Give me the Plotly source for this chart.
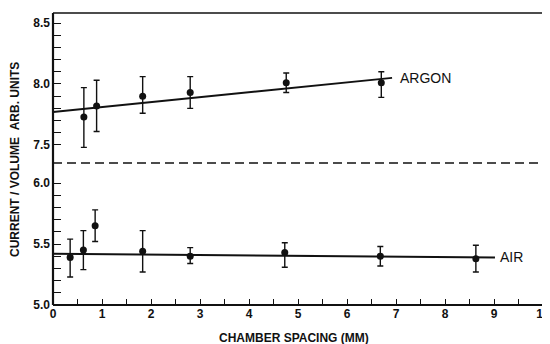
import plotly.graph_objects as go

# ---- data ----
argon_x = [0.63, 0.89, 1.83, 2.80, 4.76, 6.70]
argon_y = [7.73, 7.82, 7.90, 7.93, 8.01, 8.01]
argon_err_hi = [0.24, 0.21, 0.16, 0.13, 0.08, 0.09]
argon_err_lo = [0.25, 0.21, 0.14, 0.13, 0.08, 0.12]
argon_fit_x = [0.0, 6.92]
argon_fit_y = [7.77, 8.05]

air_x = [0.35, 0.62, 0.86, 1.83, 2.80, 4.73, 6.68, 8.63]
air_y = [5.39, 5.45, 5.65, 5.44, 5.40, 5.43, 5.40, 5.38]
air_err_hi = [0.15, 0.16, 0.13, 0.17, 0.07, 0.08, 0.08, 0.11]
air_err_lo = [0.16, 0.16, 0.13, 0.17, 0.06, 0.12, 0.08, 0.11]
air_fit_x = [0.0, 9.02]
air_fit_y = [5.42, 5.39]

# tick positions and labels
x_tickvals = [0, 0.5, 1, 1.5, 2, 2.5, 3, 3.5, 4, 4.5, 5, 5.5, 6, 6.5, 7, 7.5, 8, 8.5, 9, 9.5, 10]
x_ticktext = ["0", "", "1", "", "2", "", "3", "", "4", "", "5", "", "6", "", "7", "", "8", "", "9", "", "10"]
ylo_tickvals = [5.0, 5.1, 5.2, 5.3, 5.4, 5.5, 5.6, 5.7, 5.8, 5.9, 6.0]
ylo_ticktext = ["5.0", "", "", "", "", "5.5", "", "", "", "", "6.0"]
yhi_tickvals = [7.5, 7.6, 7.7, 7.8, 7.9, 8.0, 8.1, 8.2, 8.3, 8.4, 8.5]
yhi_ticktext = ["7.5", "", "", "", "", "8.0", "", "", "", "", "8.5"]

x_title = "CHAMBER SPACING (MM)"
y_title = "CURRENT / VOLUME\u00a0\u00a0ARB. UNITS"

INK = "#111111"
FONT = "Liberation Sans"
SPLIT = 142 / 292

fig = go.Figure()

def err(hi, lo):
    return dict(type="data", array=hi, arrayminus=lo, visible=True,
                color=INK, thickness=1.4, width=3)

fig.add_trace(go.Scatter(x=argon_fit_x, y=argon_fit_y, mode="lines",
                         line=dict(color=INK, width=2), xaxis="x", yaxis="y2",
                         showlegend=False, hoverinfo="skip"))
fig.add_trace(go.Scatter(x=argon_x, y=argon_y, mode="markers",
                         marker=dict(color=INK, size=7),
                         error_y=err(argon_err_hi, argon_err_lo),
                         xaxis="x", yaxis="y2", showlegend=False))
fig.add_trace(go.Scatter(x=air_fit_x, y=air_fit_y, mode="lines",
                         line=dict(color=INK, width=2), xaxis="x", yaxis="y",
                         showlegend=False, hoverinfo="skip"))
fig.add_trace(go.Scatter(x=air_x, y=air_y, mode="markers",
                         marker=dict(color=INK, size=7),
                         error_y=err(air_err_hi, air_err_lo),
                         xaxis="x", yaxis="y", showlegend=False))

tickfont = dict(family=FONT, size=12, color=INK, weight="bold")

def yax(domain, rng, vals, text):
    return dict(domain=domain, range=rng, anchor="x",
                tickmode="array", tickvals=vals, ticktext=text,
                ticks="inside", ticklen=8, tickwidth=1.4, tickcolor=INK,
                showgrid=False, zeroline=False, showline=False, tickfont=tickfont,
                ticklabelstandoff=2)

# page body has an 8px margin: figure is sized/offset to compensate
fig.update_layout(
    width=542, height=336,
    margin=dict(l=45, r=7, t=5, b=39, autoexpand=False),
    paper_bgcolor="white", plot_bgcolor="white",
    xaxis=dict(domain=[0, 1], range=[0, 10], anchor="y",
               tickmode="array", tickvals=x_tickvals, ticktext=x_ticktext,
               ticks="inside", ticklen=6, tickwidth=1.4,
               tickcolor=INK, showgrid=False, zeroline=False,
               showline=False, tickfont=tickfont, ticklabelstandoff=0),
    yaxis=yax([0, SPLIT], [5.0, 6.164], ylo_tickvals, ylo_ticktext),
    yaxis2=yax([SPLIT, 1], [7.352, 8.582], yhi_tickvals, yhi_ticktext),
    shapes=[
        # frame
        dict(type="line", xref="paper", yref="paper", x0=0, x1=0, y0=0, y1=1,
             line=dict(color=INK, width=2.2)),
        dict(type="line", xref="paper", yref="paper", x0=0, x1=1, y0=0, y1=0,
             line=dict(color=INK, width=2)),
        dict(type="line", xref="paper", yref="paper", x0=0, x1=1, y0=1, y1=1,
             line=dict(color=INK, width=1.6)),
        dict(type="line", xref="paper", yref="paper", x0=1, x1=1, y0=0, y1=1,
             line=dict(color=INK, width=1.6)),
        # axis break
        dict(type="line", xref="paper", yref="paper", x0=0, x1=1,
             y0=SPLIT, y1=SPLIT, line=dict(color=INK, width=1.5, dash="9px,5px")),
    ],
    annotations=[
        dict(text="ARGON", x=7.04, y=8.045, xref="x", yref="y2",
             xanchor="left", yanchor="middle", showarrow=False,
             font=dict(family=FONT, size=14, color=INK)),
        dict(text="AIR", x=9.08, y=5.395, xref="x", yref="y",
             xanchor="left", yanchor="middle", showarrow=False,
             font=dict(family=FONT, size=14, color=INK)),
        dict(text=x_title, x=0.492, y=-0.113, xref="paper", yref="paper",
             xanchor="center", yanchor="middle", showarrow=False,
             font=dict(family=FONT, size=12, color=INK, weight="bold")),
        dict(text=y_title, x=-0.0776, y=0.5, xref="paper", yref="paper",
             xanchor="center", yanchor="middle", showarrow=False, textangle=-90,
             font=dict(family=FONT, size=12, color=INK, weight="bold")),
    ],
)

fig.write_html("out.html")
